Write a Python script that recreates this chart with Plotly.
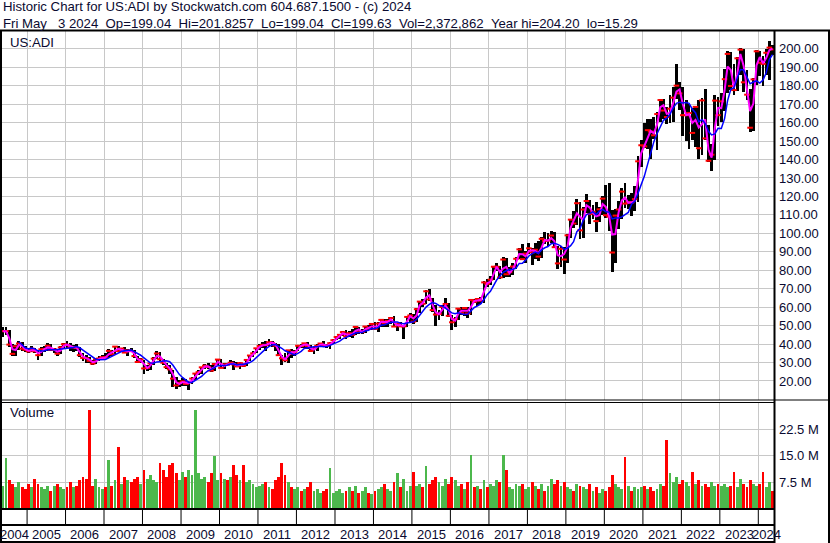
import pandas as pd
import plotly.graph_objects as go

# ---------------- data (monthly, May 2004 .. May 2024) ----------------
months = pd.date_range("2004-05-01", "2024-05-01", freq="MS") + pd.Timedelta(days=14)

high = [
    49, 49.5, 47.5, 40, 39.5, 41.5, 41, 38.7,                      # 2004
    38, 39, 38, 36.5, 38.5, 38.7, 40.5, 40, 38, 37.6, 38.8, 40.8,    # 2005
    41.5, 40.5, 39.5, 40, 38.5, 35, 34, 33, 31.5, 32.5, 33.5, 34,    # 2006
    35, 37.5, 37, 39, 39, 38, 38.5, 37.5, 38, 37, 33.5, 32.5,        # 2007
    31.5, 28.5, 30, 33, 36, 35.5, 32, 30, 28.5, 26, 22, 20.5,        # 2008
    21.5, 21, 20, 22, 24.5, 26, 27.8, 29, 29.5, 28.5, 30, 32,        # 2009
    32, 29.5, 30, 31.5, 31, 30.5, 30.5, 30, 32, 34, 36, 38,          # 2010
    40, 41, 41.5, 42.5, 41.5, 40.5, 40, 34, 35, 37, 37.5, 37,        # 2011
    39.5, 40, 40.8, 41, 39.5, 38.5, 40, 40.8, 41.5, 40, 41, 42.5,    # 2012
    44.5, 45.5, 47, 47.5, 47, 48, 50, 49.5, 48, 50, 50.5, 51.5,      # 2013
    52, 52, 53.5, 53.5, 53.5, 54.5, 55, 51.5, 52, 50, 55, 57,        # 2014
    56.5, 59.5, 63.5, 64.5, 69.5, 70, 65, 61, 58.5, 61, 65, 62,      # 2015
    55.5, 54.5, 59.5, 60, 60, 60, 64.5, 64.5, 65, 65.5, 74, 75.5,    # 2016
    77, 82.5, 84, 82.5, 87, 86.5, 81.5, 84, 87, 92, 94, 90.5,        # 2017
    95, 92, 94.5, 96, 98, 100.5, 100, 101.5, 100.5, 93, 93, 92.5,    # 2018
    99.5, 108, 112, 118.5, 117, 114, 121.5, 118, 115.5, 117, 114.5, 120,   # 2019
    126, 127, 112.5, 113, 117.5, 124.5, 127.5, 120.5, 122, 125.5, 142, 150.5,  # 2020
    160, 162, 162, 163, 165.5, 173, 173, 168.5, 175, 179, 191.5, 182,      # 2021
    179, 172, 170, 168, 169, 172, 173.5, 178, 158.5, 148.5, 175, 174,      # 2022
    176, 189, 198.5, 198, 191.5, 195.5, 200.5, 200, 188.5, 178, 184, 199.5,  # 2023
    199, 196, 200, 204.2, 201.8,                                            # 2024
]

low = [
    44, 45, 38.5, 33.5, 33.8, 37, 36.5, 35.5,                        # 2004
    35, 35.5, 35, 31.5, 33.5, 35.5, 36.5, 36.3, 35, 33.6, 34.5, 37.7,  # 2005
    37.5, 36.5, 35.5, 36.5, 33, 31, 29.5, 29.5, 28.5, 29, 31, 32,      # 2006
    32.5, 32.5, 33.5, 34.5, 35.5, 35.5, 35, 33.5, 35.5, 32.5, 29.5, 29.5,  # 2007
    24, 25.5, 26, 28.5, 32, 31, 28.5, 26.5, 24, 17, 15.6, 16.5,        # 2008
    17.5, 17.5, 15.3, 18.5, 20.5, 23, 24, 26.5, 26.5, 25, 25.5, 28.5,  # 2009
    27, 26.5, 28.5, 28.5, 26, 27.5, 26.5, 27.5, 28.3, 31, 33, 35,      # 2010
    37, 38, 36.5, 38.5, 38.5, 36.5, 33.5, 28.5, 30.5, 29.5, 32.5, 33.5,  # 2011
    36, 38, 38, 37.5, 35.5, 34.5, 36.5, 38.5, 38.5, 38, 37.5, 40,      # 2012
    42, 43, 44.5, 43, 44, 43.5, 45, 45.5, 45.5, 45.8, 47.5, 47.5,      # 2013
    47.5, 46.5, 49.5, 49.5, 49.5, 51, 49, 47, 49, 43, 49, 52,          # 2014
    51, 52, 57, 60, 61.5, 63.5, 57.5, 50, 53, 55, 59.5, 54.5,          # 2015
    47.5, 49, 53, 55.5, 55, 54, 56, 62, 60.5, 61.5, 62, 71,            # 2016
    72, 74.5, 79.5, 75, 76, 76.5, 76.5, 77.5, 80.5, 86, 85.5, 84,      # 2017
    89, 83, 86, 85, 86.5, 94, 93, 95, 92, 80.5, 82, 78,                # 2018
    84, 97.5, 103, 104.5, 97, 97.5, 111, 105, 107.5, 100.5, 106, 110,  # 2019
    108.5, 101, 79, 84, 102.5, 108, 113.5, 113, 109.5, 112, 117, 136,  # 2020
    146, 145.5, 140, 151, 145, 160.5, 162, 159, 160, 160.5, 172.5, 167,  # 2021
    152.5, 150, 145.5, 150.5, 147, 140, 142.5, 150.5, 138.5, 133.5, 139.5, 158,  # 2022
    160.5, 166.5, 176, 177.5, 175, 177, 186, 176.5, 172, 155, 155.5, 180.5,  # 2023
    185, 180, 186, 183, 196.5,                                          # 2024
]

close = [
    47, 47, 39.7, 34.7, 38.8, 40.3, 37.5, 36.9,                        # 2004
    36, 37.5, 36.1, 34, 37.2, 37.3, 39.1, 36.9, 37.1, 34.8, 38.2, 39.9,  # 2005
    39.6, 38.3, 38.3, 37.9, 34, 32.5, 32.3, 30.9, 29.4, 31.7, 32.2, 32.9,  # 2006
    32.7, 36.3, 34.5, 38.6, 36.2, 37.6, 35.4, 36.6, 36.2, 33.5, 30.3, 31.7,  # 2007
    26.8, 27.1, 29.5, 32.1, 34.9, 31.8, 29.9, 27.5, 26.3, 21.3, 17.6, 19,  # 2008
    19.8, 18.4, 19.3, 21.3, 24, 24.8, 27.4, 28.3, 27.6, 25.6, 29.2, 31.6,  # 2009
    27.1, 29, 28.8, 29.9, 29, 27.9, 29.7, 28.2, 31.4, 33.8, 35, 37.7,      # 2010
    39, 39.6, 39.4, 41, 40.6, 39.1, 34, 32.3, 31.2, 36.6, 34.8, 35.8,      # 2011
    39.1, 38.9, 40.4, 39, 36.3, 37.7, 39.1, 40.3, 39.2, 39.1, 40.5, 42.1,  # 2012
    43.8, 45, 46.5, 44.2, 45.9, 45, 49.3, 46.5, 46.5, 49.5, 48.2, 50.9,    # 2013
    48.2, 51.1, 53.1, 51.3, 52.6, 54.1, 49.5, 51, 49.6, 49.6, 54.7, 55.5,  # 2014
    52.2, 58.9, 63, 61.8, 68.6, 64.2, 58.4, 56, 56.4, 60.1, 61.7, 55.3,    # 2015
    51.8, 53.5, 59.2, 56.8, 59.5, 56.6, 63.9, 62.9, 64.4, 63.5, 73.4, 72.6,  # 2016
    74.9, 81.9, 81.9, 76.1, 85.8, 77.8, 79, 82, 86.2, 91.3, 86, 89,        # 2017
    91.9, 89.7, 91.1, 87.4, 97, 95.9, 96.1, 98.8, 92.5, 83.7, 91.6, 85.8,  # 2018
    98.9, 107.4, 105.3, 116.3, 101.6, 112.9, 117.5, 110.4, 111.7, 106.6, 113, 118.8,  # 2019
    109.8, 109, 89.6, 109.6, 112.9, 122.6, 116.1, 116.9, 116.7, 118.5, 139, 147.7,   # 2020
    147.1, 155.9, 155.1, 153.1, 164.6, 172.2, 166.5, 163, 167.5, 173.5, 180, 175.8,  # 2021
    164, 164, 165.2, 154.4, 168.5, 146.1, 172, 151.4, 139.3, 142.6, 171.9, 164,      # 2022
    171.5, 183.5, 197.2, 179.8, 177.6, 194.8, 199.5, 181.8, 175.1, 157.2, 183.4, 198.6,  # 2023
    192.4, 191.8, 197.8, 200.6, 199.6,                                                # 2024
]

volume_m = [
    6.5, 14.5, 8, 7, 6, 7.5, 6, 5.5,                       # 2004
    7, 6, 8.5, 7, 6, 5.5, 6.5, 5, 6.5, 7, 6, 5.5,          # 2005
    6, 7.5, 6, 6.5, 8, 9, 8.5, 28, 6.5, 8.5, 6, 5.5,       # 2006
    6, 13.7, 6.5, 8, 17.5, 7, 9, 8, 7.5, 8.5, 9, 7,        # 2007
    11, 8.5, 9.5, 8, 7.5, 13, 11, 9, 12.5, 13, 10, 8,      # 2008
    10.5, 9, 11, 9.5, 28, 10, 8.5, 9, 7.5, 10, 14.9, 8,    # 2009
    10, 8.5, 8, 9, 12.5, 9.5, 8, 12.5, 7.5, 8, 7, 6,       # 2010
    6.5, 7, 7.5, 6, 5.5, 8, 9, 13, 9.5, 7.5, 6, 5.5,       # 2011
    6, 5, 5.5, 6, 7.5, 5, 5.5, 4.5, 5, 5.5, 11.5, 4.5,     # 2012
    5, 5.5, 4.5, 5, 6, 5, 6.5, 4.5, 5, 6, 4.5, 4,          # 2013
    5, 5.5, 6, 7, 5.5, 5, 7.5, 10, 6, 8.5, 5, 6.5,         # 2014
    10.3, 6.5, 7, 6, 12, 7, 8, 9, 7.5, 6.5, 8.5, 7,        # 2015
    9, 8, 6.5, 7, 5.5, 7.5, 15.1, 6, 6.5, 5.5, 8, 6,       # 2016
    7, 6.5, 8, 7.5, 15.1, 11, 6, 5.5, 7, 6.5, 7, 5.5,      # 2017
    6, 7.5, 6.5, 5.5, 7, 5, 6.5, 8.5, 7, 8, 6.5, 7.5,      # 2018
    6, 5.5, 5, 7, 6.5, 6, 5.5, 7, 5, 6, 4.5, 5.5,          # 2019
    5, 6, 9.5, 7, 6, 5.5, 14.6, 6.5, 5, 6, 5.5, 6,         # 2020
    6.5, 5.5, 6, 5, 5.5, 7, 6.5, 19.4, 10, 7.5, 9, 7,      # 2021
    8, 7.5, 6.5, 10.5, 7, 8, 6.5, 7, 6, 7.5, 6.5, 7,       # 2022
    6.5, 7, 6, 6.5, 10.3, 6, 8.5, 7, 6, 8, 7, 6.5,         # 2023
    7, 10.3, 6, 7.5, 5,                                    # 2024
]

price_ticks = [20, 30, 40, 50, 60, 70, 80, 90, 100, 110, 120, 130, 140, 150, 160, 170, 180, 190, 200]
volume_ticks = [7.5, 15.0, 22.5]
volume_tick_text = ["7.5 M", "15.0 M", "22.5 M"]
years = list(range(2004, 2025))

title_line1 = "Historic Chart for US:ADI by Stockwatch.com 604.687.1500 - (c) 2024"
title_line2 = ("Fri May   3 2024  Op=199.04  Hi=201.8257  Lo=199.04  Cl=199.63  "
               "Vol=2,372,862  Year hi=204.20  lo=15.29")

assert len(months) == len(high) == len(low) == len(close) == len(volume_m) == 241

# ---------------- derived ----------------
s_close = pd.Series(close)
ma_short = s_close.rolling(2, min_periods=1).mean()
ma_long = s_close.rolling(6).mean()
rng = [h - l for h, l in zip(high, low)]
vol_colors = []
prev = None
for c in close:
    if prev is None or c >= prev:
        vol_colors.append("#4cb84c")
    else:
        vol_colors.append("#ff0000")
    prev = c

# ---------------- geometry helpers ----------------
W, H = 830, 543
def px(x):
    return x / W
def py(y):
    return 1 - y / H

FONT = "Arial, 'Liberation Sans', sans-serif"
TXT = "#0a0a30"
X_RANGE = ["2004-05-08", "2024-05-29"]
BAR_W = 27 * 86400000

fig = go.Figure()
fig.add_trace(go.Bar(x=months, y=rng, base=low, width=BAR_W,
                     marker=dict(color="#000000", line=dict(width=0)),
                     xaxis="x", yaxis="y", hoverinfo="skip"))
fig.add_trace(go.Scatter(x=months, y=close, mode="markers",
                         marker=dict(symbol="line-ew", size=4, line=dict(color="#ff0000", width=2)),
                         xaxis="x", yaxis="y", hoverinfo="skip"))
fig.add_trace(go.Scatter(x=months, y=ma_short, mode="lines",
                         line=dict(color="#ff00ff", width=2),
                         xaxis="x", yaxis="y", hoverinfo="skip"))
fig.add_trace(go.Scatter(x=months, y=ma_long, mode="lines",
                         line=dict(color="#0000ff", width=1.5),
                         xaxis="x", yaxis="y", hoverinfo="skip"))
fig.add_trace(go.Bar(x=months, y=volume_m, width=BAR_W,
                     marker=dict(color=vol_colors, line=dict(width=0)),
                     xaxis="x2", yaxis="y2", hoverinfo="skip"))

grid = "#c8c8c8"
xdom = [px(2), px(774)]
common_x = dict(type="date", range=X_RANGE, domain=xdom, showgrid=True, gridcolor=grid,
                gridwidth=1, dtick="M12", tick0="2005-01-01", showticklabels=False,
                zeroline=False, ticks="", showline=False, fixedrange=True)
fig.update_layout(
    width=W, height=H, margin=dict(l=0, r=0, t=0, b=0),
    paper_bgcolor="white", plot_bgcolor="white", showlegend=False, bargap=0,
    xaxis=dict(anchor="y", **common_x),
    xaxis2=dict(anchor="y2", matches="x", **common_x),
    yaxis=dict(anchor="x", domain=[py(400), py(31)], range=[9.7, 209.6], side="right",
               tickvals=price_ticks, tickformat=".2f", showgrid=True, gridcolor=grid,
               zeroline=False, ticks="", ticklabelstandoff=4, fixedrange=True,
               tickfont=dict(family=FONT, size=13, color=TXT)),
    yaxis2=dict(anchor="x2", domain=[py(508.5), py(403)], range=[0, 30], side="right",
                tickvals=volume_ticks, ticktext=volume_tick_text, showgrid=True, gridcolor=grid,
                zeroline=False, ticks="", ticklabelstandoff=4, fixedrange=True,
                tickfont=dict(family=FONT, size=13, color=TXT)),
)

shapes = []
def hline(y, x0, x1, w=1):
    shapes.append(dict(type="line", xref="paper", yref="paper", x0=px(x0), x1=px(x1),
                       y0=py(y), y1=py(y), line=dict(color="black", width=w)))
def vline(x, y0, y1, w=1):
    shapes.append(dict(type="line", xref="paper", yref="paper", x0=px(x), x1=px(x),
                       y0=py(y0), y1=py(y1), line=dict(color="black", width=w)))

hline(30.5, 0, 830, 2)
vline(1, 30, 543, 2)
vline(774.5, 30, 543, 2)
vline(829, 30, 543, 2)
hline(400, 0, 830, 1)
hline(402.5, 0, 774, 1)
hline(509, 0, 774, 2)
hline(525, 0, 774, 2)
hline(542, 0, 774, 2)
for yr in years[1:]:
    shapes.append(dict(type="line", xref="x2", yref="paper", x0=f"{yr}-01-01", x1=f"{yr}-01-01",
                       y0=py(509), y1=py(525), line=dict(color="black", width=1)))
fig.update_layout(shapes=shapes)

ann = []
ann.append(dict(text=title_line1, xref="paper", yref="paper", x=px(1), y=py(7), xanchor="left",
                yanchor="middle", showarrow=False, font=dict(family=FONT, size=13.2, color=TXT)))
ann.append(dict(text=title_line2.replace(" ", "\u00a0"), xref="paper", yref="paper", x=px(1), y=py(23),
                xanchor="left", yanchor="middle", showarrow=False,
                font=dict(family=FONT, size=13.2, color=TXT)))
ann.append(dict(text="US:ADI", xref="paper", yref="paper", x=px(8), y=py(42), xanchor="left",
                yanchor="middle", showarrow=False, font=dict(family=FONT, size=13.2, color=TXT)))
ann.append(dict(text="Volume", xref="paper", yref="paper", x=px(8), y=py(413), xanchor="left",
                yanchor="middle", showarrow=False, font=dict(family=FONT, size=13.2, color=TXT)))
start = pd.Timestamp(X_RANGE[0])
end = pd.Timestamp(X_RANGE[1])
for yr in years:
    a = max(pd.Timestamp(f"{yr}-01-01"), start)
    b = min(pd.Timestamp(f"{yr + 1}-01-01"), end)
    mid = a + (b - a) / 2
    ann.append(dict(text=str(yr), xref="x2", yref="paper", x=mid, y=py(534), xanchor="center",
                    yanchor="middle", showarrow=False, font=dict(family=FONT, size=13, color=TXT)))
fig.update_layout(annotations=ann)

fig.write_html("out.html", config={"displayModeBar": False, "staticPlot": False},
               post_script="document.body.style.margin='0';document.body.style.overflow='hidden';")
